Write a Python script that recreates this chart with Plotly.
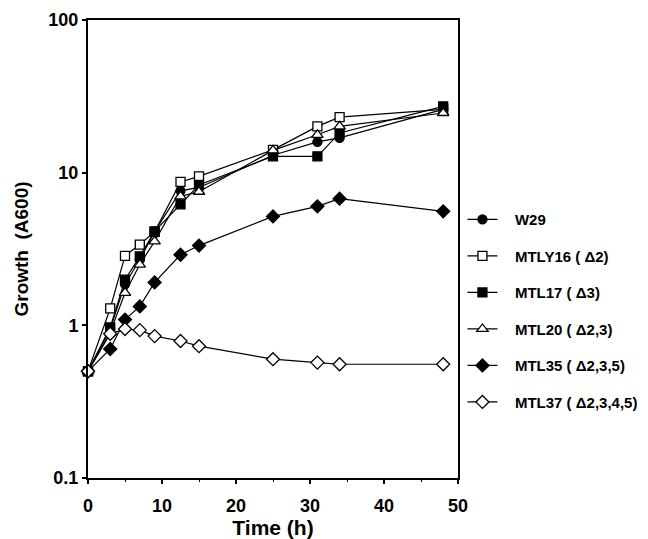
import plotly.graph_objects as go

time_h = [0, 3, 5, 7, 9, 12.5, 15, 25, 31, 34, 48]

w29 = [0.5, 0.95, 1.86, 2.7, 4.1, 7.6, 8.0, 13.0, 15.9, 16.9, 26.0]
mtly16 = [0.5, 1.29, 2.85, 3.38, 4.1, 8.7, 9.45, 14.1, 20.1, 23.1, 26.0]
mtl17 = [0.5, 0.97, 1.99, 2.83, 4.13, 6.2, 8.3, 12.8, 12.8, 18.2, 27.2]
mtl20 = [0.5, 0.9, 1.63, 2.5, 3.55, 7.0, 7.5, 14.0, 17.7, 20.1, 24.6]
mtl35 = [0.5, 0.70, 1.09, 1.33, 1.91, 2.9, 3.33, 5.17, 6.02, 6.76, 5.58]
mtl37 = [0.5, 0.88, 0.946, 0.93, 0.85, 0.79, 0.73, 0.60, 0.57, 0.556, 0.556]

pad = "\u00a0\u00a0\u00a0"
series = [
    ("W29", w29, "circle", "black", 9),
    ("MTLY16 ( \u03942)", mtly16, "square", "white", 9),
    ("MTL17 ( \u03943)", mtl17, "square", "black", 9),
    ("MTL20 ( \u03942,3)", mtl20, "triangle-up", "white", 10),
    ("MTL35 ( \u03942,3,5)", mtl35, "diamond", "black", 10),
    ("MTL37 ( \u03942,3,4,5)", mtl37, "diamond", "white", 10),
]

fig = go.Figure()
for i, (name, vals, sym, fill, sz) in enumerate(series):
    fig.add_trace(go.Scatter(
        x=time_h, y=vals, name=pad + name, mode="lines+markers",
        legendgroup=f"g{i}",
        line=dict(color="black", width=1.2),
        marker=dict(symbol=sym, size=sz, color=fill,
                    line=dict(color="black", width=1.3)),
        cliponaxis=False,
    ))

font_family = "Liberation Sans, Arial, sans-serif"
fig.update_layout(
    width=680, height=539,
    margin=dict(l=80, r=230, t=12, b=69),
    paper_bgcolor="white", plot_bgcolor="white",
    font=dict(family=font_family, size=14, color="black"),
    showlegend=True,
    legend=dict(
        x=1.012, xanchor="left", y=0.600, yanchor="top",
        font=dict(family=font_family, size=15, color="black", weight="bold"),
        tracegroupgap=14, itemwidth=30, bgcolor="rgba(0,0,0,0)",
    ),
    xaxis=dict(
        range=[0, 50], tickvals=[0, 10, 20, 30, 40, 50],
        ticks="outside", ticklen=4, tickwidth=2, tickcolor="black",
        showline=True, linecolor="black", linewidth=2, mirror=True,
        showgrid=False, zeroline=False, automargin=False,
        ticklabelstandoff=6,
        tickfont=dict(family=font_family, size=18, weight="bold"),
        title=dict(text="Time (h)", standoff=0,
                   font=dict(family=font_family, size=21, weight="bold")),
        minor=dict(tickvals=[5, 15, 25, 35, 45], ticks="outside", ticklen=2,
                   tickcolor="black", tickwidth=1),
    ),
    yaxis=dict(
        type="log", range=[-1, 2],
        tickvals=[0.1, 1, 10, 100], ticktext=["0.1", "1", "10", "100"],
        ticks="outside", ticklen=4, tickwidth=2, tickcolor="black",
        showline=True, linecolor="black", linewidth=2, mirror=True,
        showgrid=False, zeroline=False, automargin=False,
        tickfont=dict(family=font_family, size=18, weight="bold"),
        title=dict(text="Growth  (A600)", standoff=15,
                   font=dict(family=font_family, size=19, weight="bold")),
    ),
)

fig.write_html("out.html")
